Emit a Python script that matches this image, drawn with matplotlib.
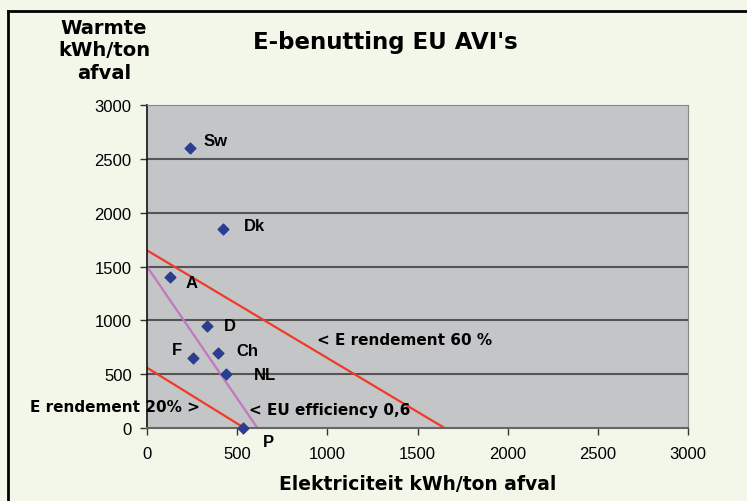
import matplotlib
matplotlib.use("Agg")
import matplotlib.pyplot as plt
from matplotlib.lines import Line2D

plt.rcParams['font.family'] = ['Liberation Sans', 'DejaVu Sans']
WIDE = ['DejaVu Sans']

# Data
countries = ["Sw", "Dk", "A", "D", "F", "Ch", "NL", "P"]
elec = [240, 420, 130, 330, 255, 395, 440, 535]
heat = [2600, 1850, 1400, 950, 650, 700, 500, 0]
label_x = [311, 538, 216, 429, 137, 494, 595, 642]
label_y = [2674, 1877, 1355, 956, 729, 721, 494, -125]

line60_x = [0, 1650]
line60_y = [1650, 0]
line20_x = [0, 540]
line20_y = [560, 0]
lineEU_x = [0, 612]
lineEU_y = [1500, 0]

xticks = [0, 500, 1000, 1500, 2000, 2500, 3000]
yticks = [0, 500, 1000, 1500, 2000, 2500, 3000]

bg = "#f2f7ea"
fig = plt.figure(figsize=(7.47, 5.02), dpi=100, facecolor=bg)
ax = fig.add_axes([147/747, 1-429/502, 541/747, 323/502])
ax.set_facecolor("#c4c5c7")
ax.set_xlim(0, 3000)
ax.set_ylim(0, 3000)

for y in yticks[1:-1]:
    ax.axhline(y, color="#555555", lw=1.5, zorder=1)

ax.plot(line60_x, line60_y, color="#f03a2a", lw=1.6, zorder=2)
ax.plot(line20_x, line20_y, color="#f03a2a", lw=1.6, zorder=2)
ax.plot(lineEU_x, lineEU_y, color="#c277c0", lw=1.6, zorder=2)

ax.scatter(elec, heat, marker="D", s=30, color="#2b3d8f", zorder=3, clip_on=False)
for c, lx, ly in zip(countries, label_x, label_y):
    ax.text(lx, ly, c, fontsize=12, fontweight="bold", ha="left", va="center", zorder=4, clip_on=False)

ax.text(943, 826, "< E rendement 60 %", fontsize=11, fontweight="bold", family=WIDE, ha="left", va="center")
ax.text(567, 169, "< EU efficiency 0,6", fontsize=11, fontweight="bold", family=WIDE, ha="left", va="center")
ax.text(294, 204, "E rendement 20% >", fontsize=11, fontweight="bold", family=WIDE, ha="right", va="center", clip_on=False)

ax.set_xticks(xticks)
ax.set_yticks(yticks)
ax.set_xticklabels([str(t) for t in xticks], fontsize=12)
ax.set_yticklabels([str(t) for t in yticks], fontsize=12)
ax.tick_params(axis="both", direction="out", length=5, width=1, color="#333333", pad=6)
ax.tick_params(axis="x", pad=8)
ax.spines["left"].set_color("#111111")
ax.spines["left"].set_linewidth(1.2)
ax.spines["bottom"].set_color("#666666")
ax.spines["bottom"].set_linewidth(1.5)
ax.spines["top"].set_color("#888888")
ax.spines["right"].set_color("#888888")

fig.text(385/747, 1-43/502, "E-benutting EU AVI's", fontsize=16.5, fontweight="bold", family=WIDE, ha="center", va="center")
fig.text(104/747, 1-51/502, "Warmte\nkWh/ton\nafval", fontsize=14, fontweight="bold", family=WIDE, ha="center", va="center", linespacing=1.22)
fig.text(418/747, 1-485/502, "Elektriciteit kWh/ton afval", fontsize=13.5, fontweight="bold", family=WIDE, ha="center", va="center")

# outer border
fig.add_artist(Line2D([8/747, 1], [1-12/502, 1-12/502], color="black", lw=2, transform=fig.transFigure))
fig.add_artist(Line2D([8/747, 8/747], [0, 1-12/502], color="black", lw=2, transform=fig.transFigure))

fig.savefig("out.png", dpi=100, facecolor=bg)
